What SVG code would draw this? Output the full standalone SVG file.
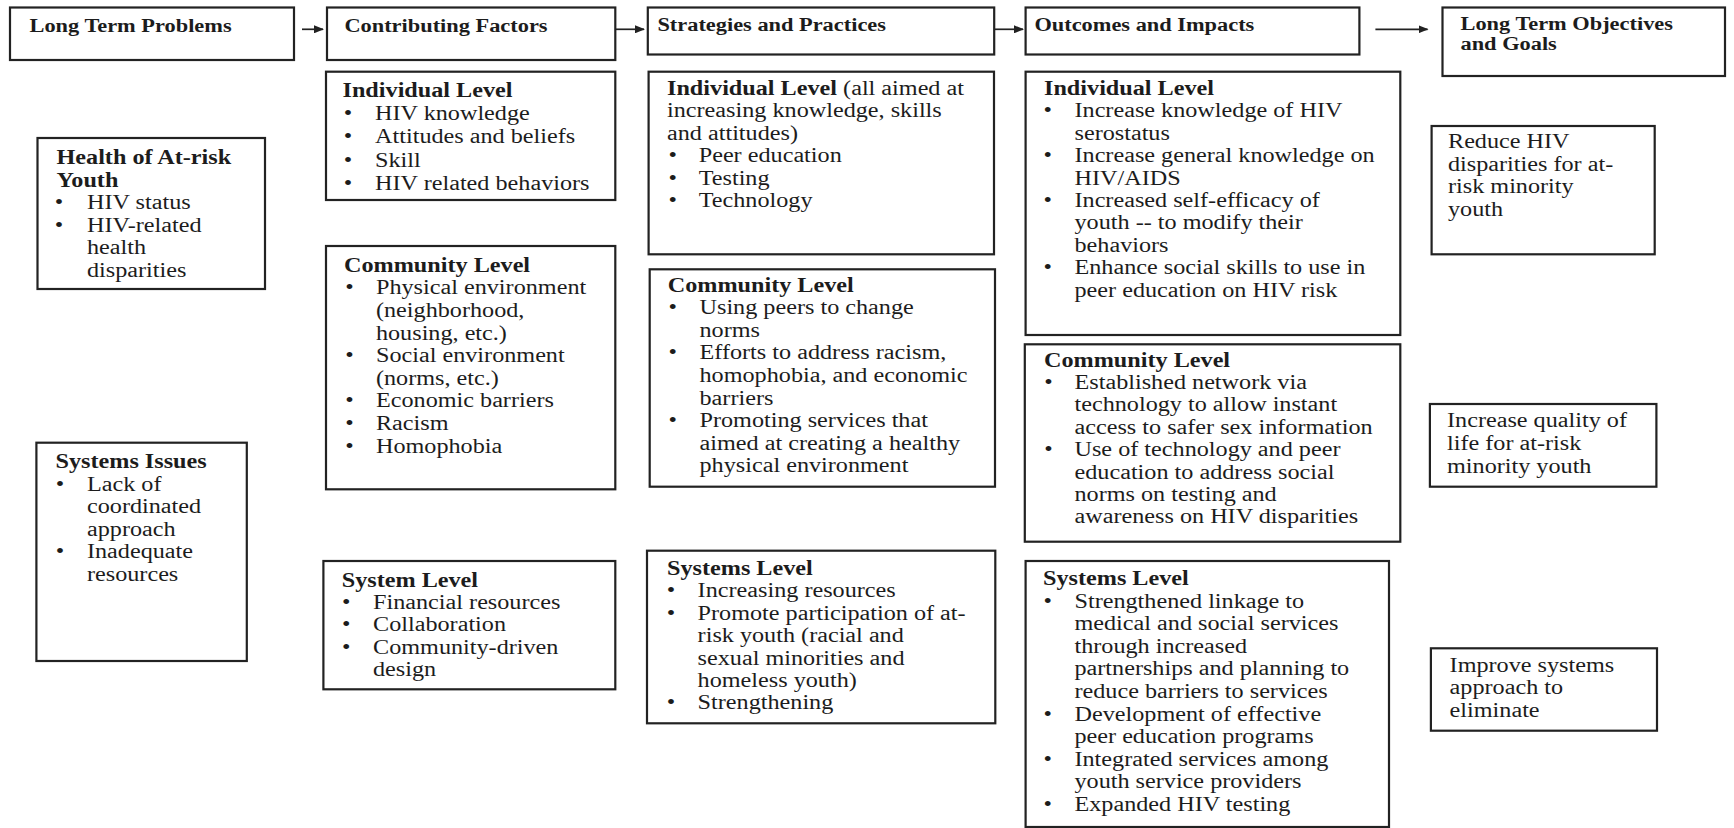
<svg xmlns="http://www.w3.org/2000/svg" width="1734" height="828" viewBox="0 0 1734 828">
  <style>
    text { font-family: "Liberation Serif", "Times New Roman", serif; font-size: 20px; fill: #1c1c1c; }
    .b { font-weight: bold; }
    .h { font-size: 18.5px; font-weight: bold; }
    rect.box { fill: #ffffff; stroke: #222222; stroke-width: 2.2; }
    .conn line { stroke: #222222; stroke-width: 1.7; fill: none; }
  </style>
  <defs>
    <marker id="head" markerUnits="userSpaceOnUse" markerWidth="10" markerHeight="8" refX="9" refY="4" orient="auto">
      <path d="M0,0 L10,4 L0,8 Z" fill="#222222"/>
    </marker>
  </defs>

  <rect x="0" y="0" width="1734" height="828" fill="#ffffff"/>

  <!-- Column headers -->
  <g id="hdr-problems">
    <rect class="box" x="10" y="7.5" width="284" height="52.5"/>
    <text class="h" transform="translate(29.5 0) scale(1.21 1)"><tspan x="0" y="31.7">Long Term Problems</tspan></text>
  </g>
  <g id="hdr-factors">
    <rect class="box" x="327" y="7.5" width="288.3" height="52.5"/>
    <text class="h" transform="translate(344.4 0) scale(1.21 1)"><tspan x="0" y="32">Contributing Factors</tspan></text>
  </g>
  <g id="hdr-strategies">
    <rect class="box" x="647.8" y="7.5" width="346.4" height="47"/>
    <text class="h" transform="translate(657.4 0) scale(1.21 1)"><tspan x="0" y="30.7">Strategies and Practices</tspan></text>
  </g>
  <g id="hdr-outcomes">
    <rect class="box" x="1025.6" y="7.5" width="333.8" height="47"/>
    <text class="h" transform="translate(1034.4 0) scale(1.21 1)"><tspan x="0" y="30.7">Outcomes and Impacts</tspan></text>
  </g>
  <g id="hdr-goals">
    <rect class="box" x="1442.5" y="7.5" width="282.5" height="68.5"/>
    <text class="h" transform="translate(1460.5 0) scale(1.21 1)"><tspan x="0" y="30">Long Term Objectives</tspan><tspan x="0" y="50">and Goals</tspan></text>
  </g>

  <!-- Long term problems -->
  <g id="prob-health">
    <rect class="box" x="37.5" y="138" width="227.5" height="151"/>
    <text transform="translate(56.5 0) scale(1.21 1)">
      <tspan class="b" x="0" y="164">Health of At-risk</tspan>
      <tspan class="b" x="0" y="186.6">Youth</tspan>
      <tspan x="-1.4" y="209.2">•</tspan><tspan x="25.2" y="209.2">HIV status</tspan>
      <tspan x="-1.4" y="231.8">•</tspan><tspan x="25.2" y="231.8">HIV-related</tspan>
      <tspan x="25.2" y="254.4">health</tspan>
      <tspan x="25.2" y="277">disparities</tspan>
    </text>
  </g>
  <g id="prob-systems">
    <rect class="box" x="36.4" y="442.7" width="210.4" height="218.3"/>
    <text transform="translate(55.5 0) scale(1.21 1)">
      <tspan class="b" x="0" y="468.3">Systems Issues</tspan>
      <tspan x="0.25" y="490.7">•</tspan><tspan x="26" y="490.7">Lack of</tspan>
      <tspan x="26" y="513.3">coordinated</tspan>
      <tspan x="26" y="535.9">approach</tspan>
      <tspan x="0.25" y="558.5">•</tspan><tspan x="26" y="558.5">Inadequate</tspan>
      <tspan x="26" y="581.1">resources</tspan>
    </text>
  </g>

  <!-- Contributing factors -->
  <g id="cf-individual">
    <rect class="box" x="326" y="71.7" width="289.3" height="128.3"/>
    <text transform="translate(342.5 0) scale(1.21 1)">
      <tspan class="b" x="0" y="96.7">Individual Level</tspan>
      <tspan x="1.1" y="120">•</tspan><tspan x="26.9" y="120">HIV knowledge</tspan>
      <tspan x="1.1" y="143.3">•</tspan><tspan x="26.9" y="143.3">Attitudes and beliefs</tspan>
      <tspan x="1.1" y="166.6">•</tspan><tspan x="26.9" y="166.6">Skill</tspan>
      <tspan x="1.1" y="189.9">•</tspan><tspan x="26.9" y="189.9">HIV related behaviors</tspan>
    </text>
  </g>
  <g id="cf-community">
    <rect class="box" x="326" y="246" width="289.3" height="243.3"/>
    <text transform="translate(344 0) scale(1.21 1)">
      <tspan class="b" x="0" y="271.7">Community Level</tspan>
      <tspan x="1" y="294.4">•</tspan><tspan x="26.4" y="294.4">Physical environment</tspan>
      <tspan x="26.4" y="317">(neighborhood,</tspan>
      <tspan x="26.4" y="339.6">housing, etc.)</tspan>
      <tspan x="1" y="362.2">•</tspan><tspan x="26.4" y="362.2">Social environment</tspan>
      <tspan x="26.4" y="384.8">(norms, etc.)</tspan>
      <tspan x="1" y="407.4">•</tspan><tspan x="26.4" y="407.4">Economic barriers</tspan>
      <tspan x="1" y="430">•</tspan><tspan x="26.4" y="430">Racism</tspan>
      <tspan x="1" y="452.6">•</tspan><tspan x="26.4" y="452.6">Homophobia</tspan>
    </text>
  </g>
  <g id="cf-system">
    <rect class="box" x="323.4" y="561" width="291.9" height="128.3"/>
    <text transform="translate(341.7 0) scale(1.21 1)">
      <tspan class="b" x="0" y="586.7">System Level</tspan>
      <tspan x="0.3" y="609.1">•</tspan><tspan x="25.9" y="609.1">Financial resources</tspan>
      <tspan x="0.3" y="631.5">•</tspan><tspan x="25.9" y="631.5">Collaboration</tspan>
      <tspan x="0.3" y="653.9">•</tspan><tspan x="25.9" y="653.9">Community-driven</tspan>
      <tspan x="25.9" y="676.3">design</tspan>
    </text>
  </g>

  <!-- Strategies and practices -->
  <g id="sp-individual">
    <rect class="box" x="648.6" y="71.7" width="345.4" height="182.6"/>
    <text transform="translate(667 0) scale(1.21 1)">
      <tspan x="0" y="95"><tspan class="b">Individual Level</tspan> (all aimed at</tspan>
      <tspan x="0" y="117.4">increasing knowledge, skills</tspan>
      <tspan x="0" y="139.8">and attitudes)</tspan>
      <tspan x="1.2" y="162.2">•</tspan><tspan x="26.2" y="162.2">Peer education</tspan>
      <tspan x="1.2" y="184.6">•</tspan><tspan x="26.2" y="184.6">Testing</tspan>
      <tspan x="1.2" y="207">•</tspan><tspan x="26.2" y="207">Technology</tspan>
    </text>
  </g>
  <g id="sp-community">
    <rect class="box" x="649.7" y="269.3" width="345.3" height="217.4"/>
    <text transform="translate(667.7 0) scale(1.21 1)">
      <tspan class="b" x="0" y="291.7">Community Level</tspan>
      <tspan x="0.7" y="314.3">•</tspan><tspan x="26.3" y="314.3">Using peers to change</tspan>
      <tspan x="26.3" y="336.9">norms</tspan>
      <tspan x="0.7" y="359.5">•</tspan><tspan x="26.3" y="359.5">Efforts to address racism,</tspan>
      <tspan x="26.3" y="382.1">homophobia, and economic</tspan>
      <tspan x="26.3" y="404.7">barriers</tspan>
      <tspan x="0.7" y="427.3">•</tspan><tspan x="26.3" y="427.3">Promoting services that</tspan>
      <tspan x="26.3" y="449.9">aimed at creating a healthy</tspan>
      <tspan x="26.3" y="472.5">physical environment</tspan>
    </text>
  </g>
  <g id="sp-systems">
    <rect class="box" x="647" y="550.7" width="348.3" height="172.6"/>
    <text transform="translate(667 0) scale(1.21 1)">
      <tspan class="b" x="0" y="575">Systems Level</tspan>
      <tspan x="-0.3" y="597.4">•</tspan><tspan x="25.3" y="597.4">Increasing resources</tspan>
      <tspan x="-0.3" y="619.8">•</tspan><tspan x="25.3" y="619.8">Promote participation of at-</tspan>
      <tspan x="25.3" y="642.2">risk youth (racial and</tspan>
      <tspan x="25.3" y="664.6">sexual minorities and</tspan>
      <tspan x="25.3" y="687">homeless youth)</tspan>
      <tspan x="-0.3" y="709.4">•</tspan><tspan x="25.3" y="709.4">Strengthening</tspan>
    </text>
  </g>

  <!-- Outcomes and impacts -->
  <g id="oi-individual">
    <rect class="box" x="1025.6" y="71.7" width="374.7" height="263.3"/>
    <text transform="translate(1044 0) scale(1.21 1)">
      <tspan class="b" x="0" y="95">Individual Level</tspan>
      <tspan x="-0.4" y="117.4">•</tspan><tspan x="25.2" y="117.4">Increase knowledge of HIV</tspan>
      <tspan x="25.2" y="139.8">serostatus</tspan>
      <tspan x="-0.4" y="162.2">•</tspan><tspan x="25.2" y="162.2">Increase general knowledge on</tspan>
      <tspan x="25.2" y="184.6">HIV/AIDS</tspan>
      <tspan x="-0.4" y="207">•</tspan><tspan x="25.2" y="207">Increased self-efficacy of</tspan>
      <tspan x="25.2" y="229.4">youth -- to modify their</tspan>
      <tspan x="25.2" y="251.8">behaviors</tspan>
      <tspan x="-0.4" y="274.2">•</tspan><tspan x="25.2" y="274.2">Enhance social skills to use in</tspan>
      <tspan x="25.2" y="296.6">peer education on HIV risk</tspan>
    </text>
  </g>
  <g id="oi-community">
    <rect class="box" x="1024.8" y="344.3" width="375.5" height="197.4"/>
    <text transform="translate(1044 0) scale(1.21 1)">
      <tspan class="b" x="0" y="366.7">Community Level</tspan>
      <tspan x="0.2" y="389.1">•</tspan><tspan x="25.2" y="389.1">Established network via</tspan>
      <tspan x="25.2" y="411.5">technology to allow instant</tspan>
      <tspan x="25.2" y="433.9">access to safer sex information</tspan>
      <tspan x="0.2" y="456.3">•</tspan><tspan x="25.2" y="456.3">Use of technology and peer</tspan>
      <tspan x="25.2" y="478.7">education to address social</tspan>
      <tspan x="25.2" y="501.1">norms on testing and</tspan>
      <tspan x="25.2" y="523.5">awareness on HIV disparities</tspan>
    </text>
  </g>
  <g id="oi-systems">
    <rect class="box" x="1025.6" y="561" width="363.4" height="266"/>
    <text transform="translate(1043 0) scale(1.21 1)">
      <tspan class="b" x="0" y="585">Systems Level</tspan>
      <tspan x="0.4" y="607.6">•</tspan><tspan x="26" y="607.6">Strengthened linkage to</tspan>
      <tspan x="26" y="630.2">medical and social services</tspan>
      <tspan x="26" y="652.8">through increased</tspan>
      <tspan x="26" y="675.4">partnerships and planning to</tspan>
      <tspan x="26" y="698">reduce barriers to services</tspan>
      <tspan x="0.4" y="720.6">•</tspan><tspan x="26" y="720.6">Development of effective</tspan>
      <tspan x="26" y="743.2">peer education programs</tspan>
      <tspan x="0.4" y="765.8">•</tspan><tspan x="26" y="765.8">Integrated services among</tspan>
      <tspan x="26" y="788.4">youth service providers</tspan>
      <tspan x="0.4" y="811">•</tspan><tspan x="26" y="811">Expanded HIV testing</tspan>
    </text>
  </g>

  <!-- Long term objectives and goals -->
  <g id="goal-disparities">
    <rect class="box" x="1431.6" y="126" width="223.1" height="128.3"/>
    <text transform="translate(1448 0) scale(1.21 1)">
      <tspan x="0" y="148.3">Reduce HIV</tspan>
      <tspan x="0" y="170.8">disparities for at-</tspan>
      <tspan x="0" y="193.3">risk minority</tspan>
      <tspan x="0" y="215.8">youth</tspan>
    </text>
  </g>
  <g id="goal-quality">
    <rect class="box" x="1429.9" y="404" width="226.5" height="82.7"/>
    <text transform="translate(1447 0) scale(1.21 1)">
      <tspan x="0" y="426.7">Increase quality of</tspan>
      <tspan x="0" y="450">life for at-risk</tspan>
      <tspan x="0" y="473.3">minority youth</tspan>
    </text>
  </g>
  <g id="goal-systems">
    <rect class="box" x="1430.9" y="648.3" width="226.1" height="82.4"/>
    <text transform="translate(1449.6 0) scale(1.21 1)">
      <tspan x="0" y="671.7">Improve systems</tspan>
      <tspan x="0" y="694">approach to</tspan>
      <tspan x="0" y="716.7">eliminate</tspan>
    </text>
  </g>

  <!-- Arrows between the column headers -->
  <g id="connectors" class="conn">
    <line x1="302" y1="29.3" x2="323" y2="29.3" marker-end="url(#head)"/>
    <line x1="615.3" y1="29.3" x2="644" y2="29.3" marker-end="url(#head)"/>
    <line x1="994.2" y1="29.3" x2="1023" y2="29.3" marker-end="url(#head)"/>
    <line x1="1375.4" y1="29.3" x2="1427.5" y2="29.3" marker-end="url(#head)"/>
  </g>
</svg>
